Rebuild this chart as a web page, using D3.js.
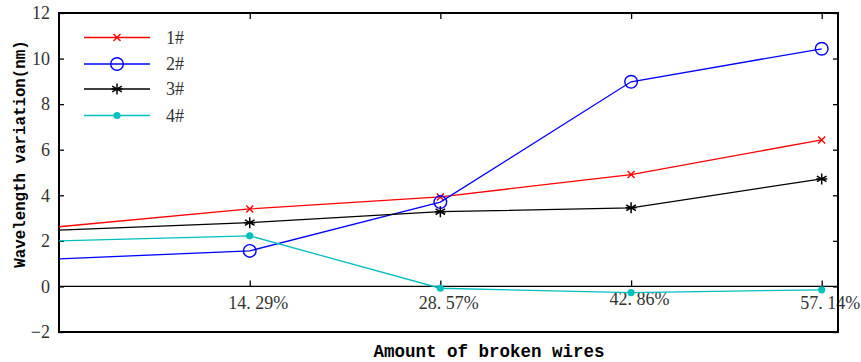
<!DOCTYPE html>
<html>
<head>
<meta charset="utf-8">
<script src="https://cdn.jsdelivr.net/npm/d3@7"></script>
<style>
  body { margin: 0; background: #fff; }
</style>
</head>
<body>
<div id="chart"></div>
<script>
// broken-wire ratio (%) and wavelength variation (nm) per sensor
var xValues = [0, 14.29, 28.57, 42.86, 57.14];
var xTickLabels = ["14. 29%", "28. 57%", "42. 86%", "57. 14%"];
var yTicks = [-2, 0, 2, 4, 6, 8, 10, 12];
var seriesNames = ["1#", "2#", "3#", "4#"];
var s1 = [2.62, 3.40, 3.93, 4.91, 6.43];
var s2 = [1.21, 1.56, 3.70, 8.98, 10.43];
var s3 = [2.47, 2.80, 3.28, 3.45, 4.72];
var s4 = [2.00, 2.22, -0.08, -0.27, -0.15];

var W = 861, H = 362;
// plot box (note: "top" is reserved on window, so use pTop etc.)
var pLeft = 59, pRight = 838, pTop = 13, pBottom = 332;

var svg = d3.select("#chart").append("svg")
  .attr("width", W).attr("height", H);

var x = d3.scaleLinear().domain([0, 57.14]).range([pLeft, 821.7]);
var y = d3.scaleLinear().domain([-2, 12]).range([pBottom, pTop]);

var serif = "'Liberation Serif', 'DejaVu Serif', serif";
var mono = "'Liberation Mono', 'DejaVu Sans Mono', monospace";

// y ticks left (inward) and right (inward)
var yl = svg.append("g").attr("transform", "translate(" + pLeft + ",0)")
  .call(d3.axisLeft(y).tickValues(yTicks).tickSizeInner(-5).tickSizeOuter(0)
    .tickPadding(9).tickFormat(function(d){ return d < 0 ? "\u2212" + (-d) : d; }));
yl.attr("font-family", serif).attr("font-size", 18);
yl.select(".domain").remove();
yl.selectAll("text").attr("fill", "#333");
yl.selectAll("line").attr("stroke", "#000").attr("stroke-width", 1.3);

var yr = svg.append("g").attr("transform", "translate(" + pRight + ",0)")
  .call(d3.axisRight(y).tickValues(yTicks).tickSizeInner(-5).tickSizeOuter(0).tickFormat(""));
yr.select(".domain").remove();
yr.selectAll("line").attr("stroke", "#000").attr("stroke-width", 1.3);

// x ticks at the zero line (pointing up) and at the top border (pointing down)
var xb = svg.append("g").attr("transform", "translate(0," + y(0) + ")")
  .call(d3.axisBottom(x).tickValues(xValues.slice(1)).tickSizeInner(-6).tickSizeOuter(0)
    .tickPadding(10).tickFormat(function(d, i){ return xTickLabels[i]; }));
xb.attr("font-family", serif).attr("font-size", 18);
xb.select(".domain").remove();
xb.selectAll("line").attr("stroke", "#000").attr("stroke-width", 1.3);
xb.selectAll("text").attr("fill", "#333").attr("dx", 8)
  .attr("dy", function(d, i){ return i === 2 ? "0.45em" : "0.71em"; });

var xt = svg.append("g").attr("transform", "translate(0," + pTop + ")")
  .call(d3.axisTop(x).tickValues(xValues.slice(1)).tickSizeInner(-6).tickSizeOuter(0).tickFormat(""));
xt.select(".domain").remove();
xt.selectAll("line").attr("stroke", "#000").attr("stroke-width", 1.3);

// zero line
svg.append("line")
  .attr("x1", pLeft).attr("x2", pRight).attr("y1", y(0)).attr("y2", y(0))
  .attr("stroke", "#000").attr("stroke-width", 1.3);

// box
svg.append("rect")
  .attr("x", pLeft).attr("y", pTop).attr("width", pRight - pLeft).attr("height", pBottom - pTop)
  .attr("fill", "none").attr("stroke", "#000").attr("stroke-width", 2);

var series = [
  { name: seriesNames[0], values: s1, color: "#ff0000", marker: "x" },
  { name: seriesNames[1], values: s2, color: "#0000ff", marker: "o" },
  { name: seriesNames[2], values: s3, color: "#000000", marker: "*" },
  { name: seriesNames[3], values: s4, color: "#00bfbf", marker: "." }
];

function drawMarker(g, type, color) {
  if (type === "x") {
    g.append("path").attr("d", "M-3.5,-3.5L3.5,3.5M-3.5,3.5L3.5,-3.5")
      .attr("stroke", color).attr("stroke-width", 1.4).attr("fill", "none");
  } else if (type === "o") {
    g.append("circle").attr("r", 6.3)
      .attr("stroke", color).attr("stroke-width", 1.4).attr("fill", "none");
  } else if (type === "*") {
    g.append("path").attr("d", "M0,-5.5L0,5.5M-4.8,-2.8L4.8,2.8M-4.8,2.8L4.8,-2.8M-5.5,0L5.5,0")
      .attr("stroke", color).attr("stroke-width", 1.5).attr("fill", "none");
  } else {
    g.append("circle").attr("r", 3.6).attr("fill", color);
  }
}

var line = d3.line()
  .x(function(d, i){ return x(xValues[i]); })
  .y(function(d){ return y(d); });

series.forEach(function(s) {
  svg.append("path").datum(s.values)
    .attr("d", line).attr("fill", "none")
    .attr("stroke", s.color).attr("stroke-width", 1.3);
  s.values.forEach(function(v, i) {
    if (i === 0) return;
    drawMarker(svg.append("g").attr("transform", "translate(" + x(xValues[i]) + "," + y(v) + ")"),
      s.marker, s.color);
  });
});

// legend
var legendY = [37.5, 64, 89, 115.5];
series.forEach(function(s, i) {
  var g = svg.append("g").attr("transform", "translate(0," + legendY[i] + ")");
  g.append("line").attr("x1", 84).attr("x2", 150).attr("y1", 0).attr("y2", 0)
    .attr("stroke", s.color).attr("stroke-width", 1.3);
  drawMarker(g.append("g").attr("transform", "translate(117,0)"), s.marker, s.color);
  g.append("text").attr("x", 166).attr("y", 6).text(s.name)
    .attr("font-family", serif).attr("font-size", 18).attr("fill", "#333");
});

// axis titles
svg.append("text")
  .attr("x", 489).attr("y", 357)
  .attr("text-anchor", "middle")
  .attr("font-family", mono).attr("font-weight", "bold").attr("font-size", 17.5)
  .attr("fill", "#000")
  .text("Amount of broken wires");

svg.append("text")
  .attr("transform", "translate(25,154) rotate(-90)")
  .attr("text-anchor", "middle")
  .attr("font-family", mono).attr("font-weight", "bold").attr("font-size", 15.8)
  .attr("fill", "#000")
  .text("Wavelength variation(nm)");
</script>
</body>
</html>
